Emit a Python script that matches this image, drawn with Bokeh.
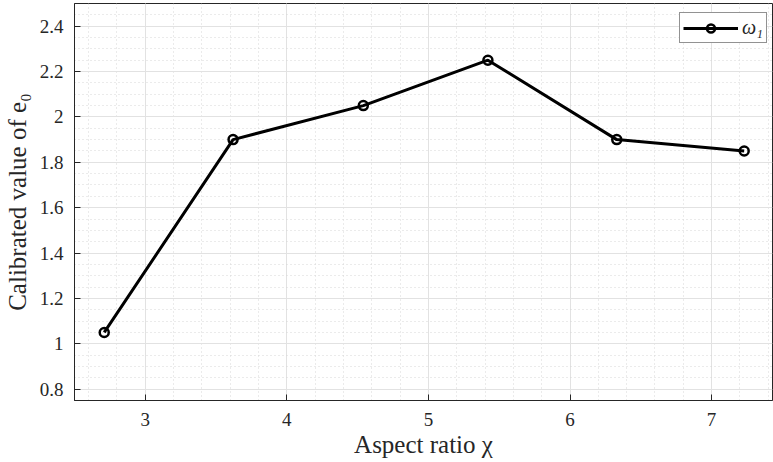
from bokeh.plotting import figure
from bokeh.models import (Range1d, SingleIntervalTicker, CustomJSTickFormatter,
                          Legend, LegendItem)
from bokeh.embed import file_html
from bokeh.resources import INLINE

# Calibrated e0 against the aspect ratio
aspect_ratio = [2.71, 3.62, 4.54, 5.42, 6.33, 7.23]
e0_values = [1.05, 1.90, 2.05, 2.25, 1.90, 1.85]
series_label = "ω₁"

x_tick_step = 1
y_tick_step = 0.2

FONT = "Liberation Serif"
AXIS_COL = "#262626"

p = figure(width=773, height=462, output_backend="svg", toolbar_location=None,
           x_range=Range1d(2.5, 7.43), y_range=Range1d(0.75, 2.5),
           min_border_left=72, min_border_right=1, min_border_top=3,
           min_border_bottom=62, background_fill_color="white",
           border_fill_color="white")
p.outline_line_color = AXIS_COL
p.outline_line_width = 1

p.xaxis.ticker = SingleIntervalTicker(interval=x_tick_step, num_minor_ticks=5)
p.yaxis.ticker = SingleIntervalTicker(interval=y_tick_step, num_minor_ticks=4)
p.yaxis.formatter = CustomJSTickFormatter(
    code="return String(parseFloat(tick.toFixed(3)));")

for ax in p.axis:
    ax.axis_line_color = AXIS_COL
    ax.major_tick_line_color = AXIS_COL
    ax.major_tick_in = 6
    ax.major_tick_out = 0
    ax.minor_tick_line_color = None
    ax.major_label_text_font = FONT
    ax.major_label_text_font_size = "19px"
    ax.major_label_text_font_style = "normal"
    ax.major_label_text_color = "#262626"
    ax.axis_label_text_font = FONT
    ax.axis_label_text_font_size = "25px"
    ax.axis_label_text_font_style = "normal"
    ax.axis_label_text_color = "#262626"

p.xaxis.axis_label = "Aspect ratio χ"
p.yaxis.axis_label = "Calibrated value of e₀"
p.xaxis.major_label_standoff = 8
p.yaxis.major_label_standoff = 7
p.xaxis.axis_label_standoff = 2
p.yaxis.axis_label_standoff = 6

for g in (p.xgrid, p.ygrid):
    g.grid_line_color = "#e2e2e2"
    g.grid_line_width = 1
    g.minor_grid_line_color = "#d6d6d6"
    g.minor_grid_line_dash = "1 3"
    g.minor_grid_line_width = 1

ln = p.line(aspect_ratio, e0_values, line_color="black", line_width=3)
sc = p.scatter(aspect_ratio, e0_values, marker="circle", size=9,
               line_color="black", line_width=2.5, fill_color=None)

legend = Legend(items=[LegendItem(label=series_label, renderers=[ln, sc])],
                location=(605, 357), orientation="vertical",
                label_text_font=FONT, label_text_font_size="20px",
                label_text_font_style="italic", label_text_color="#262626",
                glyph_width=55, glyph_height=20, label_standoff=4,
                padding=3, spacing=0, margin=0,
                border_line_color=AXIS_COL, border_line_width=1,
                background_fill_color="white", background_fill_alpha=1.0)
p.add_layout(legend, "center")

open("out.html", "w").write(file_html(p, INLINE))
